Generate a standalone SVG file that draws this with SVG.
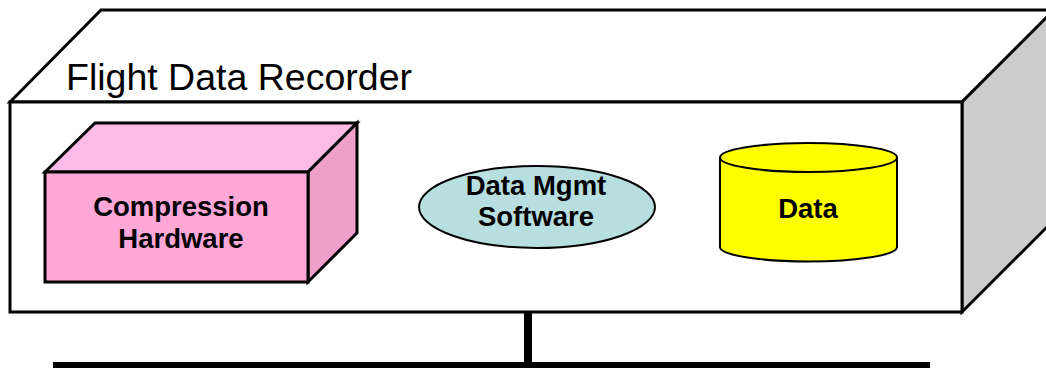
<svg xmlns="http://www.w3.org/2000/svg" width="1046" height="368" viewBox="0 0 1046 368">
<style>
.ol{stroke:#000;stroke-width:3;stroke-linejoin:miter}
.thin{stroke:#000;stroke-width:2}
.lbl{font-family:"Liberation Sans",Arial,sans-serif;font-weight:bold;font-size:27.5px;text-anchor:middle;fill:#000}
.title{font-family:"Liberation Sans",Arial,sans-serif;font-size:37.5px;fill:#000}
</style>
<rect width="1046" height="368" fill="#fff"/>
<g id="recorder">
<polygon class="ol" points="10,102 101,10 1054,10 962,102" fill="#fff"/>
<polygon class="ol" points="962,102 1054,10 1054,220 962,312" fill="#cccccc"/>
<rect class="ol" x="10" y="102" width="952" height="210" fill="#fff"/>
<text class="title" x="66" y="90">Flight Data Recorder</text>
</g>
<g id="compression-hardware">
<polygon class="ol" points="45,172 95,123 357,123 308,172" fill="#ffbbe8"/>
<polygon class="ol" points="308,172 357,123 357,233 308,282" fill="#eea0c8"/>
<rect class="ol" x="45" y="172" width="263" height="110" fill="#ffa8d8"/>
<text class="lbl" x="181" y="216">Compression</text>
<text class="lbl" x="181" y="248">Hardware</text>
</g>
<g id="data-mgmt-software">
<ellipse class="thin" cx="537" cy="207" rx="118" ry="41" fill="#b8dfe0"/>
<text class="lbl" x="536" y="195">Data Mgmt</text>
<text class="lbl" x="536" y="226">Software</text>
</g>
<g id="data">
<path class="thin" d="M720,157.5 L720,247 A88.5,14.5 0 0 0 897,247 L897,157.5" fill="#ffff00"/>
<ellipse class="thin" cx="808.5" cy="157.5" rx="88.5" ry="14.5" fill="#ffff00"/>
<text class="lbl" x="808" y="218">Data</text>
</g>
<g id="connectors">
<line x1="528" y1="313" x2="528" y2="363" stroke="#000" stroke-width="8"/>
<rect x="53" y="362" width="877" height="8" fill="#000"/>
</g>
</svg>
